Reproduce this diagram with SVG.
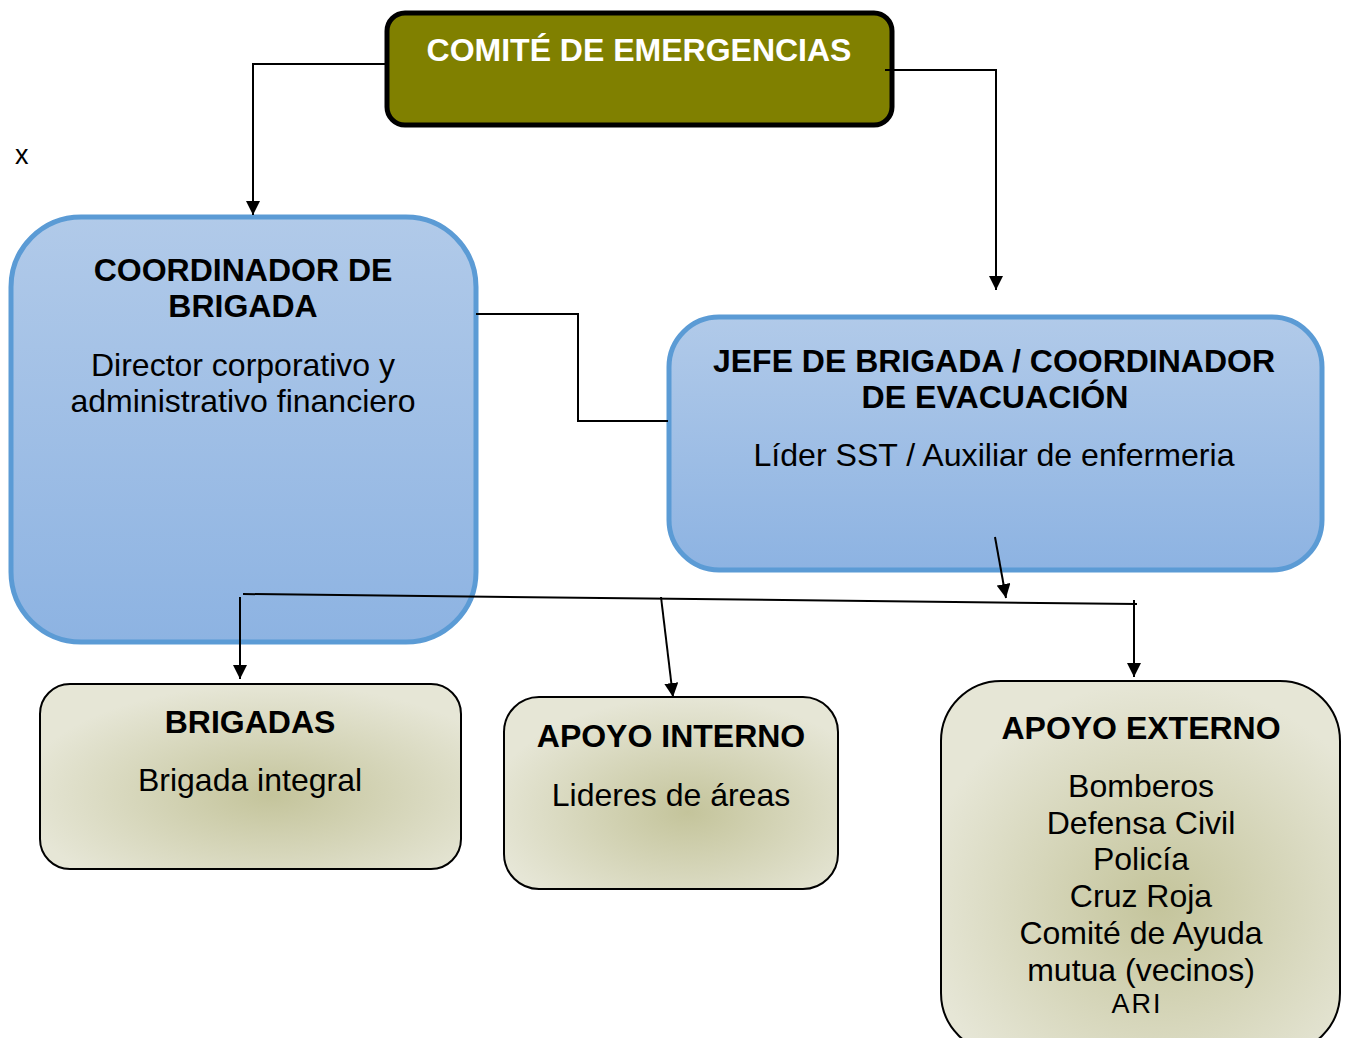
<svg xmlns="http://www.w3.org/2000/svg" width="1348" height="1038" viewBox="0 0 1348 1038">
<style>
.b{font-family:"Liberation Sans",Arial,sans-serif;font-weight:bold;font-size:32px;fill:#000;text-anchor:middle}
.r{font-family:"Liberation Sans",Arial,sans-serif;font-size:32px;fill:#000;text-anchor:middle}
.ln{fill:none;stroke:#000;stroke-width:2}
.blue{stroke:#5b9bd5;stroke-width:5;fill:url(#gb)}
.tan{stroke:#000;stroke-width:2;fill:url(#gt)}
</style>
<defs>
<linearGradient id="gb" x1="0" y1="0" x2="0" y2="1">
<stop offset="0" stop-color="#b1cae9"/>
<stop offset="1" stop-color="#8db3e2"/>
</linearGradient>
<radialGradient id="gt" cx="0.55" cy="0.6" r="0.6">
<stop offset="0" stop-color="#c4c49b"/>
<stop offset="1" stop-color="#e6e6d6"/>
</radialGradient>
<marker id="ar" viewBox="0 0 10 10" refX="10" refY="5" markerWidth="7" markerHeight="7" orient="auto" markerUnits="strokeWidth">
<path d="M0,0 L10,5 L0,10 z" fill="#000"/>
</marker>
</defs>
<rect width="1348" height="1038" fill="#fff"/>
<text x="15" y="164" style="font-family:'Liberation Sans',Arial,sans-serif;font-size:27px">x</text>

<g id="comite">
<rect x="387" y="13" width="505" height="112" rx="18" fill="#808000" stroke="#000" stroke-width="5"/>
<text class="b" x="639" y="61" style="fill:#fff">COMITÉ DE EMERGENCIAS</text>
</g>

<g id="coordinador">
<rect class="blue" x="11" y="217" width="465" height="425" rx="70"/>
<text class="b" x="243" y="281">COORDINADOR DE</text>
<text class="b" x="243" y="317">BRIGADA</text>
<text class="r" x="243" y="376">Director corporativo y</text>
<text class="r" x="243" y="412">administrativo financiero</text>
</g>

<g id="jefe">
<rect class="blue" x="669" y="317" width="653" height="253" rx="50"/>
<text class="b" x="994" y="372" textLength="562" lengthAdjust="spacingAndGlyphs">JEFE DE BRIGADA / COORDINADOR</text>
<text class="b" x="995" y="408" textLength="267" lengthAdjust="spacingAndGlyphs">DE EVACUACIÓN</text>
<text class="r" x="994" y="466" textLength="481" lengthAdjust="spacingAndGlyphs">Líder SST / Auxiliar de enfermeria</text>
</g>

<g id="brigadas">
<rect class="tan" x="40" y="684" width="421" height="185" rx="30"/>
<text class="b" x="250" y="733">BRIGADAS</text>
<text class="r" x="250" y="791">Brigada integral</text>
</g>

<g id="apoyo-interno">
<rect class="tan" x="504" y="697" width="334" height="192" rx="35"/>
<text class="b" x="671" y="747">APOYO INTERNO</text>
<text class="r" x="671" y="806">Lideres de áreas</text>
</g>

<g id="apoyo-externo">
<rect class="tan" x="941" y="681" width="399" height="372" rx="60"/>
<text class="b" x="1141" y="739">APOYO EXTERNO</text>
<text class="r" x="1141" y="797">Bomberos</text>
<text class="r" x="1141" y="834">Defensa Civil</text>
<text class="r" x="1141" y="870">Policía</text>
<text class="r" x="1141" y="907">Cruz Roja</text>
<text class="r" x="1141" y="944">Comité de Ayuda</text>
<text class="r" x="1141" y="981">mutua (vecinos)</text>
<text class="r" x="1137" y="1013" style="font-size:27px;letter-spacing:2px">ARI</text>
</g>

<g id="connectors">
<path class="ln" d="M387,64 H253 V215" marker-end="url(#ar)"/>
<path class="ln" d="M885,70 H996 V290" marker-end="url(#ar)"/>
<path class="ln" d="M476,314 H578 V421 H668"/>
<path class="ln" d="M995,537 L1006,598" marker-end="url(#ar)"/>
<path class="ln" d="M243,594 L1137,604"/>
<path class="ln" d="M1134,600 V677" marker-end="url(#ar)"/>
<path class="ln" d="M240,597 V679" marker-end="url(#ar)"/>
<path class="ln" d="M661,597 L673,697" marker-end="url(#ar)"/>
</g>
</svg>
